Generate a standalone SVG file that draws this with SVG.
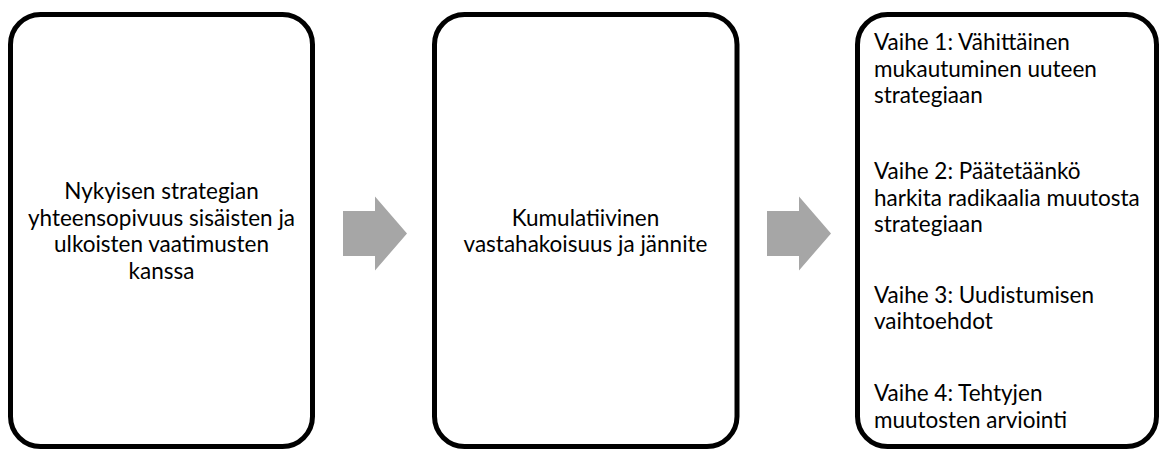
<svg xmlns="http://www.w3.org/2000/svg" width="1159" height="450" viewBox="0 0 1159 450">
<style>
.box{fill:#fff;stroke:#000;stroke-width:5}
.arrow{fill:#A6A6A6;stroke:none}
text{font-family:Lato,"Open Sans","DejaVu Sans",sans-serif;font-size:22.5px;fill:#000}
.c{text-anchor:middle}
</style>
<rect width="1159" height="450" fill="#fff"/>
<g id="node1">
<rect class="box" x="10.5" y="14.5" width="302" height="432" rx="30" ry="30"/>
<text class="c" x="161.5" y="199">Nykyisen strategian</text>
<text class="c" x="161.5" y="226">yhteensopivuus sisäisten ja</text>
<text class="c" x="161.5" y="252">ulkoisten vaatimusten</text>
<text class="c" x="161.5" y="279">kanssa</text>
</g>
<g id="node2">
<rect class="box" x="434.5" y="14.5" width="302.5" height="432" rx="30" ry="30"/>
<text class="c" x="585.5" y="226">Kumulatiivinen</text>
<text class="c" x="585.5" y="252">vastahakoisuus ja jännite</text>
</g>
<g id="node3">
<rect class="box" x="857.5" y="14.5" width="299" height="432" rx="30" ry="30"/>
<text x="874" y="50">Vaihe 1: Vähittäinen</text>
<text x="874" y="77">mukautuminen uuteen</text>
<text x="874" y="103">strategiaan</text>
<text x="874" y="179">Vaihe 2: Päätetäänkö</text>
<text x="874" y="206">harkita radikaalia muutosta</text>
<text x="874" y="232">strategiaan</text>
<text x="874" y="303">Vaihe 3: Uudistumisen</text>
<text x="874" y="329">vaihtoehdot</text>
<text x="874" y="401">Vaihe 4: Tehtyjen</text>
<text x="874" y="428">muutosten arviointi</text>
</g>
<g id="connectors">
<polygon class="arrow" points="343,211 375,211 375,196.5 407,233.5 375,270.5 375,256 343,256"/>
<polygon class="arrow" points="767,211 799,211 799,196.5 831,233.5 799,270.5 799,256 767,256"/>
</g>
</svg>
